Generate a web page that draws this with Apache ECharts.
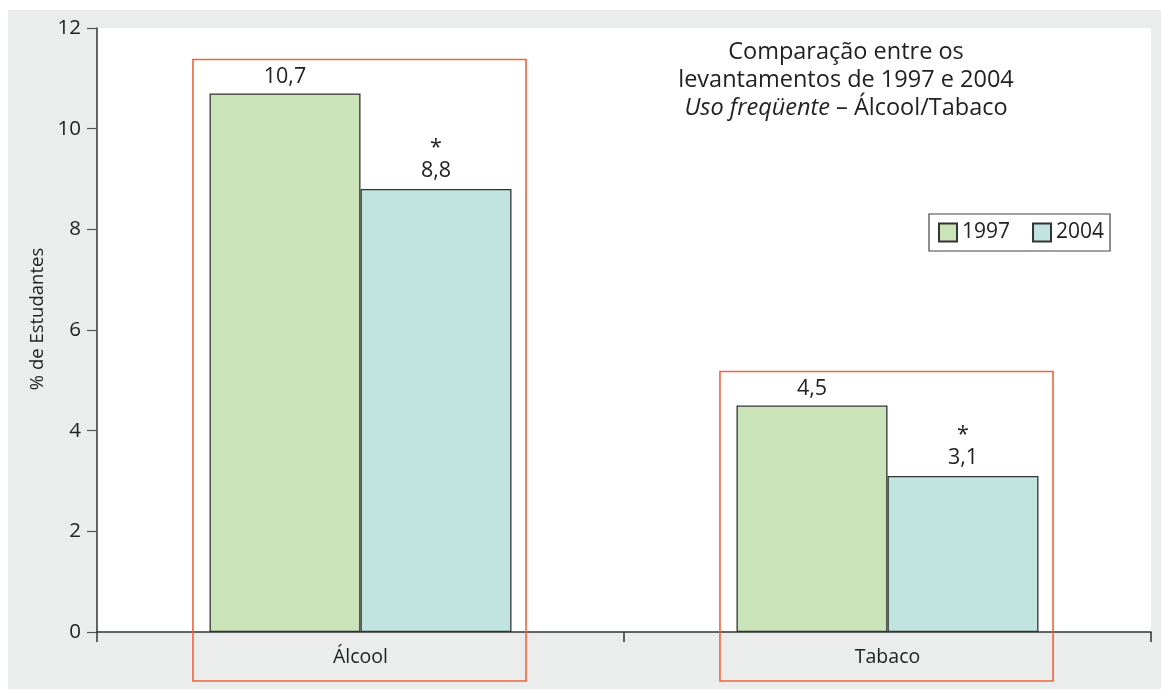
<!DOCTYPE html>
<html><head><meta charset="utf-8">
<script src="https://cdn.jsdelivr.net/npm/echarts@6/dist/echarts.min.js"></script>
<style>html,body{margin:0;padding:0;background:#fff}#c{width:1161px;height:691px}</style>
</head><body><div id="c"></div>
<script>
const categories = ['Álcool', 'Tabaco'];
const values1997 = [10.7, 4.5];
const values2004 = [8.8, 3.1];
const seriesNames = ['1997', '2004'];
const titleLines = ['Comparação entre os', 'levantamentos de 1997 e 2004'];
const titleItalic = 'Uso freqüente';
const titleRest = ' – Álcool/Tabaco';
const yTitle = '% de Estudantes';

const FONT = '"Open Sans", "Noto Sans", sans-serif';
const fmt = v => String(v).replace('.', ',');
const chart = echarts.init(document.getElementById('c'), null, {renderer: 'canvas'});

const option = {
  animation: false,
  textStyle: {fontFamily: FONT},
  graphic: [
    {type: 'rect', id: 'bg', z: -10, silent: true, shape: {x: 8, y: 10, width: 1153, height: 679}, style: {fill: '#ebecec'}},
    {type: 'text', id: 't', z: 100, x: 846, y: 38, silent: true,
     style: {
       text: '{n|' + titleLines[0] + '}\n{n|' + titleLines[1] + '}\n{i|' + titleItalic + '}{n|' + titleRest + '}',
       align: 'center', verticalAlign: 'top', fill: '#222',
       rich: {n: {fontSize: 23.5, fontFamily: FONT, lineHeight: 28, fill: '#222'},
              i: {fontSize: 23.5, fontFamily: FONT, fontStyle: 'italic', lineHeight: 28, fill: '#222'}}
     }},
    {type: 'text', id: 'yt', z: 100, x: 38, y: 319, rotation: Math.PI / 2, silent: true,
     style: {text: yTitle, fontSize: 18.5, fontFamily: FONT, fill: '#222', align: 'center', verticalAlign: 'middle'}}
  ],
  grid: {left: 97, right: 10, top: 28, bottom: 59, show: true, backgroundColor: '#fff', borderWidth: 0, containLabel: false},
  legend: {
    left: 929, top: 214, orient: 'horizontal',
    data: seriesNames,
    itemWidth: 18, itemHeight: 18, itemGap: 22,
    borderColor: '#444', borderWidth: 1.2, padding: [8, 6, 8, 9],
    backgroundColor: '#fff',
    textStyle: {fontSize: 21, color: '#222', fontFamily: FONT},
    icon: 'rect'
  },
  xAxis: {
    type: 'category', data: categories, boundaryGap: true,
    axisLine: {lineStyle: {color: '#333', width: 1.5}},
    axisTick: {show: true, length: 10, alignWithLabel: false, lineStyle: {color: '#333', width: 1.5}},
    axisLabel: {fontSize: 19.5, color: '#222', margin: 15, fontFamily: FONT},
    splitLine: {show: false}
  },
  yAxis: {
    type: 'value', min: 0, max: 12, interval: 2,
    axisLine: {show: true, lineStyle: {color: '#333', width: 1.5}},
    axisTick: {show: true, length: 10, lineStyle: {color: '#555', width: 1.2}},
    axisLabel: {fontSize: 20.5, color: '#222', margin: 16, fontFamily: FONT},
    splitLine: {show: false}
  },
  series: [
    {
      name: seriesNames[0], type: 'bar', data: values1997, barGap: '0%', barCategoryGap: '42.7%',
      itemStyle: {color: '#cae3b8', borderColor: '#333', borderWidth: 1.3},
      label: {show: true, position: 'top', distance: 6, fontSize: 21.5, color: '#222', fontFamily: FONT,
              formatter: p => fmt(p.value)}
    },
    {
      name: seriesNames[1], type: 'bar', data: values2004, barGap: '0%', barCategoryGap: '42.7%',
      itemStyle: {color: '#c1e4e1', borderColor: '#333', borderWidth: 1.3},
      label: {show: true, position: 'top', distance: 5, color: '#222',
              formatter: p => '{s|*}\n{v|' + fmt(p.value) + '}',
              rich: {s: {fontSize: 21.5, lineHeight: 20, fontFamily: FONT, color: '#222', align: 'center'},
                     v: {fontSize: 21.5, lineHeight: 26, fontFamily: FONT, color: '#222', align: 'center'}}}
    }
  ]
};
chart.setOption(option);

// red highlight boxes around each category's bars
const boxes = categories.map((c, i) => {
  const top = Math.max(values1997[i], values2004[i]);
  const center = chart.convertToPixel({xAxisIndex: 0}, i);
  const next = chart.convertToPixel({xAxisIndex: 0}, i === 0 ? 1 : 0);
  const band = Math.abs(next - center);
  const half = band * 0.316;
  const yTop = chart.convertToPixel({yAxisIndex: 0}, top) - 34;
  const yBottom = chart.convertToPixel({yAxisIndex: 0}, 0) + 49;
  return {type: 'rect', id: 'box' + i, z: 50, silent: true,
    shape: {x: center - half - 1, y: yTop, width: half * 2, height: yBottom - yTop},
    style: {fill: 'none', stroke: '#f0643c', lineWidth: 1.6}};
});
chart.setOption({graphic: boxes});
</script>
</body></html>
